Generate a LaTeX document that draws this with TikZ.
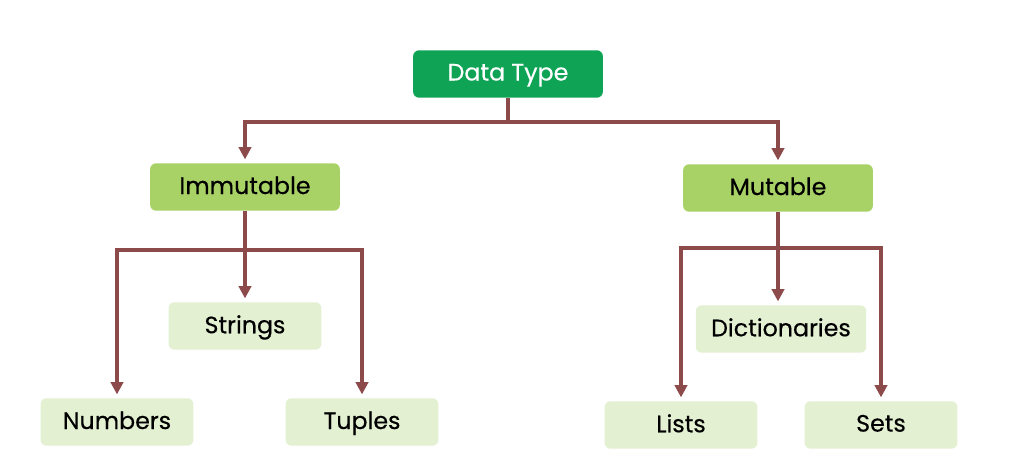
\documentclass[tikz,border=0pt]{standalone}
\usepackage{fontspec}
\setmainfont{Poppins}
\newfontfamily\boxfont{Poppins}[FakeBold=0.4]
\usepackage{tikz}
\usetikzlibrary{positioning, arrows.meta, calc}
\definecolor{dtgreen}{HTML}{0FA356}
\definecolor{midgreen}{HTML}{A8D166}
\definecolor{palegreen}{HTML}{E3F0D2}
\definecolor{linkbrown}{HTML}{8C4A4A}

\tikzset{
    box/.style={rounded corners=3.4pt, minimum height=27pt, inner sep=0pt, text depth=2pt, font=\boxfont\fontsize{13.5}{15}\selectfont},
    root/.style={box, fill=dtgreen, text=white, minimum width=108pt},
    kind/.style={box, fill=midgreen, minimum width=108pt},
    leaf/.style={box, fill=palegreen, minimum width=87pt},
    link/.style={draw=linkbrown, line width=2.2pt},
    arr/.style={link, -{Triangle[width=7pt, length=7pt]}, shorten >=2pt}
}

\begin{document}
\begin{tikzpicture}[x=0.02cm, y=-0.02cm]
        \useasboundingbox (0,0) rectangle (1029,465);

        \node[root] (dt) at (508,74) {Data Type};
        \node[kind] (imm) at (245,187) {Immutable};
        \node[kind] (mut) at (778,188) {Mutable};
        \node[leaf] (str) at (245,326) {Strings};
        \node[leaf] (num) at (117,422) {Numbers};
        \node[leaf] (tup) at (362,422) {Tuples};
        \node[leaf, minimum width=97pt] (dict) at (781,329) {Dictionaries};
        \node[leaf] (lst) at (681,425) {Lists};
        \node[leaf] (set) at (881,425) {Sets};

        \coordinate (j0) at (dt.south |- 0,122);
        \coordinate (j1) at (imm.south |- 0,250);
        \coordinate (j2) at (mut.south |- 0,248);

        \draw[link] (dt.south) -- (j0);
        \draw[arr] (j0) -| (imm.north);
        \draw[arr] (j0) -| (mut.north);

        \draw[link] (imm.south) -- (j1);
        \draw[arr] (j1) -| (num.north);
        \draw[arr] (j1) -- (str.north);
        \draw[arr] (j1) -| (tup.north);

        \draw[link] (mut.south) -- (j2);
        \draw[arr] (j2) -| (lst.north);
        \draw[arr] (j2) -- (j2 |- dict.north);
        \draw[arr] (j2) -| (set.north);
    \end{tikzpicture}
\end{document}
